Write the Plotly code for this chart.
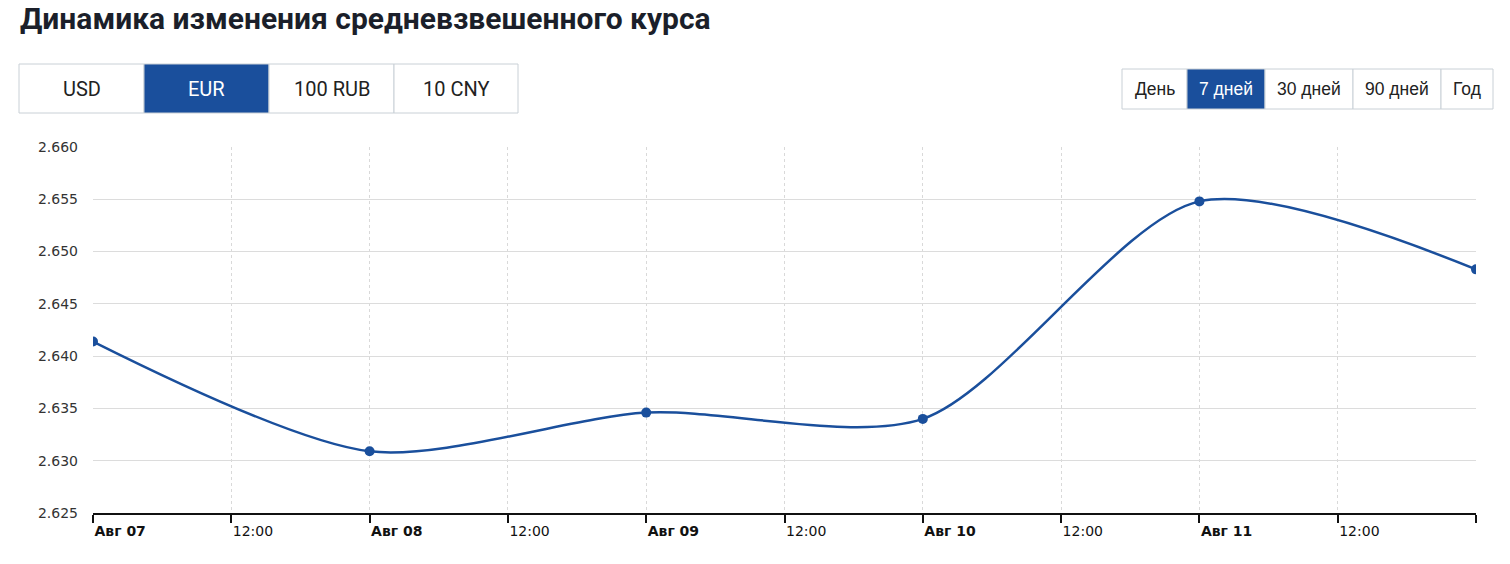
import plotly.graph_objects as go

# данные
dates = ["2024-08-07", "2024-08-08", "2024-08-09", "2024-08-10", "2024-08-11", "2024-08-12"]
rates = [2.6414, 2.6309, 2.6346, 2.6340, 2.6548, 2.6483]

tick_vals = ["2024-08-07 00:00", "2024-08-07 12:00", "2024-08-08 00:00", "2024-08-08 12:00",
             "2024-08-09 00:00", "2024-08-09 12:00", "2024-08-10 00:00", "2024-08-10 12:00",
             "2024-08-11 00:00", "2024-08-11 12:00", "2024-08-12 00:00"]
tick_text = ["<b>Авг 07</b>", "12:00", "<b>Авг 08</b>", "12:00", "<b>Авг 09</b>", "12:00",
             "<b>Авг 10</b>", "12:00", "<b>Авг 11</b>", "12:00", ""]

currencies = ["USD", "EUR", "100 RUB", "10 CNY"]
periods = ["День", "7 дней", "30 дней", "90 дней", "Год"]

BLUE = "#1a4f9c"
W, H = 1510, 564
L, R, T, B = 93, 34, 147, 51


def px(x):
    return (x - L) / (W - L - R)


def py(y):
    return (H - B - y) / (H - T - B)


fig = go.Figure()
fig.add_trace(go.Scatter(
    x=dates, y=rates, mode="lines+markers",
    line=dict(color=BLUE, width=2.5, shape="spline", smoothing=0.8),
    marker=dict(color=BLUE, size=10),
    hoverinfo="x+y"))

shapes = []
annotations = []

# кнопки валют
cur_edges = [19, 144, 269, 394, 518]
for i, name in enumerate(currencies):
    active = name == "EUR"
    shapes.append(dict(type="rect", xref="paper", yref="paper",
                       x0=px(cur_edges[i]), x1=px(cur_edges[i + 1]), y0=py(113), y1=py(64),
                       fillcolor=BLUE if active else "white",
                       line=dict(color="#c9d0d6", width=1), layer="above"))
    annotations.append(dict(xref="paper", yref="paper", showarrow=False,
                            xanchor="center", yanchor="middle",
                            x=px((cur_edges[i] + cur_edges[i + 1]) / 2), y=py(89),
                            text=name, font=dict(family="Roboto", size=20,
                                                 color="white" if active else "#222")))

# кнопки периода
per_edges = [1122, 1187, 1265, 1353, 1441, 1493]
for i, name in enumerate(periods):
    active = name == "7 дней"
    shapes.append(dict(type="rect", xref="paper", yref="paper",
                       x0=px(per_edges[i]), x1=px(per_edges[i + 1]), y0=py(109), y1=py(69),
                       fillcolor=BLUE if active else "white",
                       line=dict(color="#c9d0d6", width=1), layer="above"))
    annotations.append(dict(xref="paper", yref="paper", showarrow=False,
                            xanchor="center", yanchor="middle",
                            x=px((per_edges[i] + per_edges[i + 1]) / 2), y=py(89),
                            text=name, font=dict(family="Liberation Sans", size=17.5,
                                                 color="white" if active else "#222")))

fig.update_layout(
    width=W, height=H,
    margin=dict(l=L, r=R, t=T, b=B),
    paper_bgcolor="white", plot_bgcolor="white",
    showlegend=False,
    title=dict(text="<b>Динамика изменения средневзвешенного курса</b>",
               x=20 / W, xanchor="left", y=1 - 18 / H, yanchor="middle",
               font=dict(family="Roboto", size=30, color="#1b1f2a")),
    shapes=shapes, annotations=annotations,
    xaxis=dict(range=["2024-08-07", "2024-08-12"], tickvals=tick_vals, ticktext=tick_text,
               ticklabelposition="outside right", ticklabelstandoff=4,
               showgrid=True, gridcolor="#d9d9d9", griddash="dot", gridwidth=1,
               showline=True, linecolor="#111", linewidth=1.5,
               ticks="outside", ticklen=8, tickcolor="#111", tickwidth=1.5,
               tickfont=dict(family="DejaVu Sans", size=14, color="#111"),
               zeroline=False, fixedrange=True),
    yaxis=dict(range=[2.625, 2.660], dtick=0.005, tick0=2.625, tickformat=".3f",
               showgrid=True, gridcolor="#dcdcdc", gridwidth=1,
               showline=False, zeroline=False, ticks="", ticklabelstandoff=14,
               tickfont=dict(family="DejaVu Sans", size=14, color="#333"), fixedrange=True),
)

# убираем стандартный отступ body, чтобы фигура встала в левый верхний угол
fig.write_html("out.html", config={"displayModeBar": False},
               post_script="document.body.style.margin = '0';")
